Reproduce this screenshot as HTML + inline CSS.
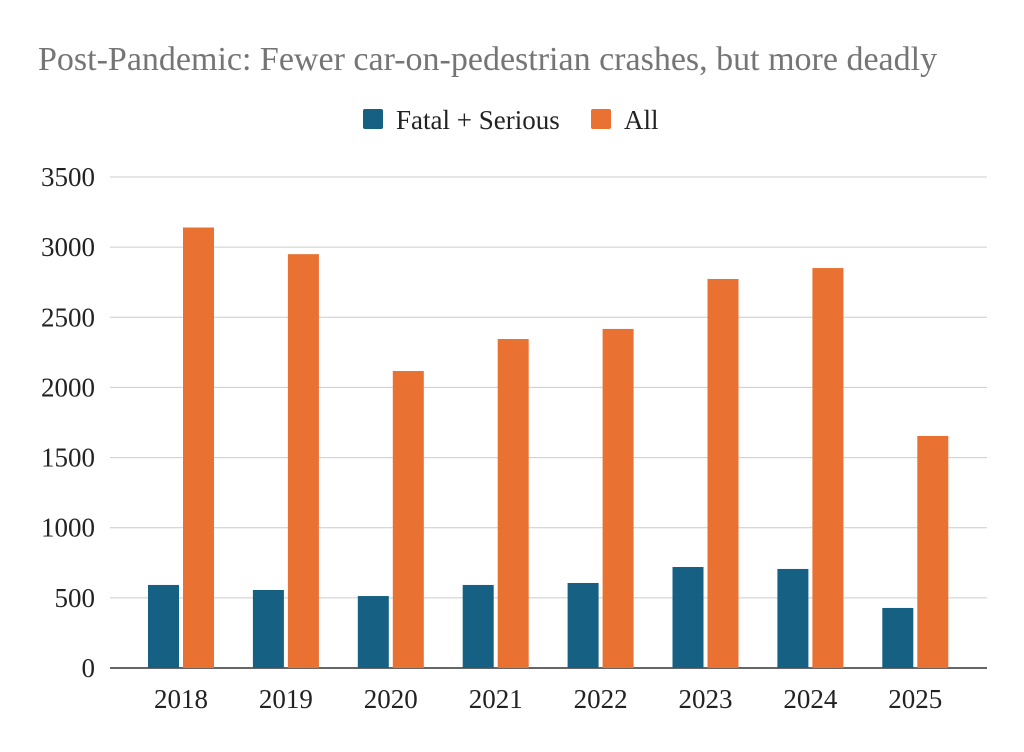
<!DOCTYPE html>
<html><head><meta charset="utf-8"><style>
html,body{margin:0;padding:0;background:#fff;}
svg{display:block;font-family:"Liberation Serif",serif;}
</style></head><body>
<svg id="chart" width="1024" height="752" viewBox="0 0 1024 752">
<text x="38" y="70" font-size="34" fill="#757575">Post-Pandemic: Fewer car-on-pedestrian crashes, but more deadly</text>
<g>
<rect x="363" y="109" width="20" height="20" rx="2" fill="#166083"/>
<text x="396" y="129" font-size="27" fill="#222">Fatal + Serious</text>
<rect x="591" y="109" width="20" height="20" rx="2" fill="#e97132"/>
<text x="624" y="129" font-size="27" fill="#222">All</text>
</g>
<g id="grid"></g><g id="bars"></g><g id="labels"></g>
</svg>
<script>
const categories = ["2018","2019","2020","2021","2022","2023","2024","2025"];
const fatalSerious = [592,556,513,592,606,720,706,428];
const allCrashes = [3140,2950,2117,2345,2417,2773,2851,1654];
const yTicks = [0,500,1000,1500,2000,2500,3000,3500];
const NS="http://www.w3.org/2000/svg";
const y0=668, y1=177, yMax=3500;
const y = v => y0-(v/yMax)*(y0-y1);
const x = i => 181+i*104.9;
const grid=document.getElementById('grid'), bars=document.getElementById('bars'), labels=document.getElementById('labels');
function mk(tag,attrs,parent){const e=document.createElementNS(NS,tag);for(const k in attrs)e.setAttribute(k,attrs[k]);parent.appendChild(e);return e;}
yTicks.forEach(t=>{
  const l=mk('line',{x1:110,x2:987,y1:y(t),y2:y(t),stroke:t===0?'#333':'#ccc','stroke-width':t===0?1.5:1},grid);
  
  
  const tx=mk('text',{x:95,y:y(t)+9,'font-size':27,'text-anchor':'end',fill:'#222'},labels);
  tx.textContent=t;
  
  
});
categories.forEach((c,i)=>{
  const b1=mk('rect',{x:x(i)-33,y:y(fatalSerious[i]),width:31,height:y0-y(fatalSerious[i]),fill:'#166083'},bars);
  
  
  const b2=mk('rect',{x:x(i)+2,y:y(allCrashes[i]),width:31,height:y0-y(allCrashes[i]),fill:'#e97132'},bars);
  
  
  const tx=mk('text',{x:x(i),y:708,'font-size':27,'text-anchor':'middle',fill:'#222'},labels);
  tx.textContent=c;
  
  
});
</script>
</body></html>
